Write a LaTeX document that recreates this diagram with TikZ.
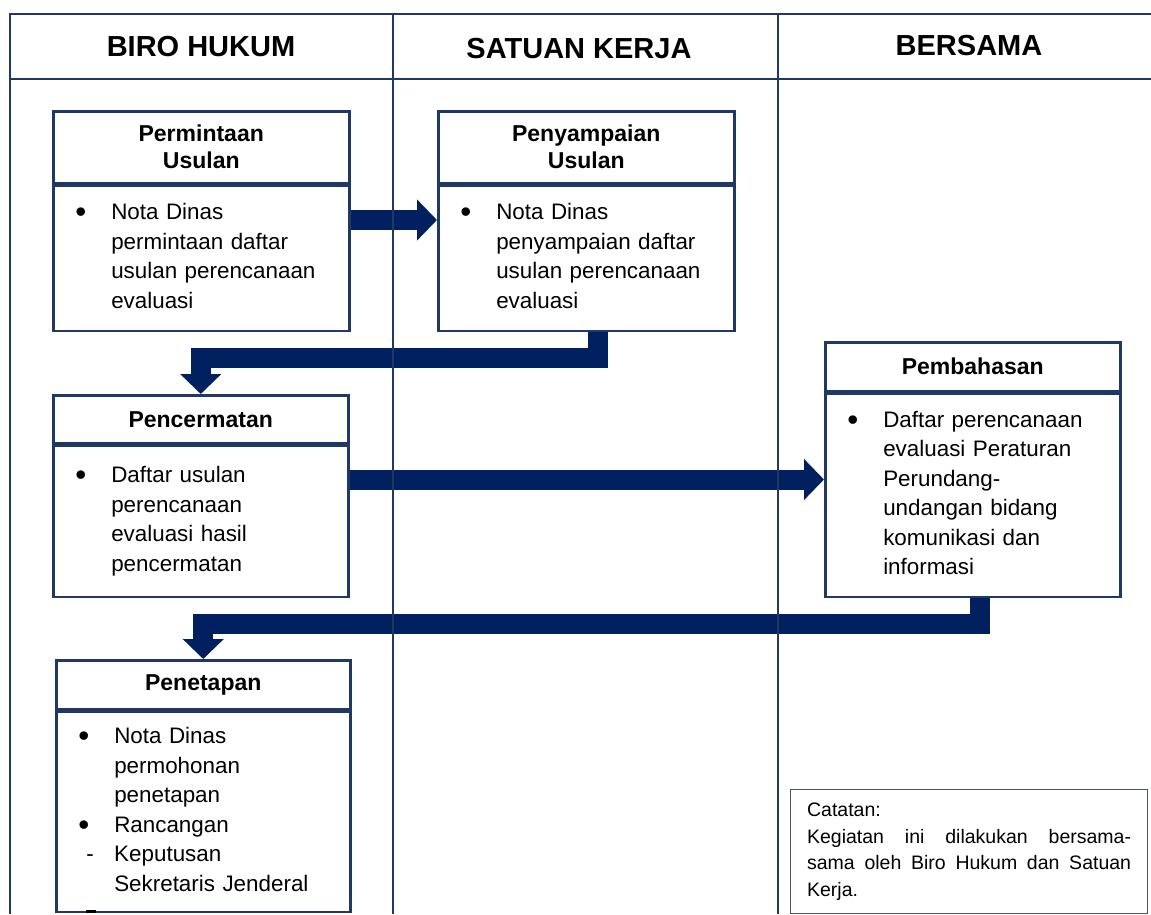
\documentclass[tikz,border=0pt]{standalone}
\usepackage{fontspec}
\setmainfont{Liberation Sans}
\usetikzlibrary{positioning,arrows.meta}

\definecolor{garis}{RGB}{31,56,100}
\definecolor{panah}{RGB}{0,32,96}
\definecolor{catat}{RGB}{75,85,105}

\pgfdeclarelayer{bawah}
\pgfsetlayers{bawah,main}

% bullet list: marker column + text column
\newcommand{\daftar}[1]{\begin{tabular}{@{}p{36pt}@{}l@{}}#1\end{tabular}}
\newcommand{\bul}{\raisebox{-2.8pt}{\scalebox{1.4}{\textbullet}}}

\tikzset{
  lajur/.style={draw=garis, line width=2.5pt},
  kepala/.style={font=\fontsize{29}{34}\selectfont\bfseries},
  judul/.style={draw=garis, line width=2.5pt, align=center, inner sep=0pt,
    anchor=north west, font=\fontsize{23}{27}\selectfont\bfseries},
  isi/.style={draw=garis, line width=2.5pt, align=left, text width=#1,
    inner xsep=22pt, inner ysep=0pt, font=\fontsize{22.4}{29.5}\selectfont},
  alur/.style={draw=panah, line width=20pt, line join=miter,
    -{Triangle[length=20pt,width=40pt]}}
}

\begin{document}
\begin{tikzpicture}[x=1pt,y=-1pt]
    \useasboundingbox (0,0) rectangle (1151,914);

    % Headers
    \node[kepala] (hBiro) at (201,47) {BIRO HUKUM};
    \node[kepala] (hSatker) at (579,49) {SATUAN KERJA};
    \node[kepala] (hBersama) at (969,46) {BERSAMA};

    % Boxes
    \node[judul, minimum width=296pt, minimum height=72pt] (mintaJudul) at (52,110) {Permintaan\\Usulan};
    \node[isi=252pt, minimum height=145pt, below=0pt of mintaJudul] (mintaIsi)
        {\daftar{\bul & Nota Dinas\\ & permintaan daftar\\ & usulan perencanaan\\ & evaluasi}};

    \node[judul, minimum width=296pt, minimum height=72pt] (sampaiJudul) at (437,110) {Penyampaian\\Usulan};
    \node[isi=252pt, minimum height=145pt, below=0pt of sampaiJudul] (sampaiIsi)
        {\daftar{\bul & Nota Dinas\\ & penyampaian daftar\\ & usulan perencanaan\\ & evaluasi}};

    \node[judul, minimum width=295pt, minimum height=48pt] (cermatJudul) at (52,394) {Pencermatan};
    \node[isi=251pt, minimum height=151pt, below=0pt of cermatJudul] (cermatIsi)
        {\daftar{\bul & Daftar usulan\\ & perencanaan\\ & evaluasi hasil\\ & pencermatan}};

    \node[judul, minimum width=295pt, minimum height=49pt] (bahasJudul) at (824,341) {Pembahasan};
    \node[isi=251pt, minimum height=203pt, below=0pt of bahasJudul] (bahasIsi)
        {\daftar{\bul & Daftar perencanaan\\ & evaluasi Peraturan\\ & Perundang-\\ & undangan bidang\\ & komunikasi dan\\ & informasi}};

    \node[judul, minimum width=294pt, minimum height=49pt] (tetapJudul) at (55,659) {Penetapan};
    \node[isi=250pt, minimum height=200pt, below=0pt of tetapJudul] (tetapIsi)
        {\daftar{\bul & Nota Dinas\\ & permohonan\\ & penetapan\\ \bul & Rancangan\\ \hspace{8pt}- & Keputusan\\ & Sekretaris Jenderal}};
    \fill (86,909.5) rectangle (96,912.5);

    % Note
    \node[draw=catat, line width=1.2pt, anchor=north west, text width=324pt,
          inner xsep=16.5pt, minimum height=124pt, align=justify,
          font=\fontsize{19.5}{26.7}\selectfont] (catatan) at (790,789)
        {Catatan:\par Kegiatan ini dilakukan bersama-\linebreak sama oleh Biro Hukum dan Satuan Kerja.};

    % Arrows
    \coordinate (p1) at ([yshift=-35.5pt]mintaIsi.north east);
    \coordinate (p2) at ([yshift=-35pt]cermatIsi.north east);
    \begin{pgfonlayer}{bawah}
        \draw[alur] (p1) -- (p1 -| sampaiIsi.west);
        \draw[alur] ([xshift=11.5pt]sampaiIsi.south) -- ++(0,25.5) -| (cermatJudul.north);
        \draw[alur] (p2) -- (p2 -| bahasIsi.west);
        \draw[alur] ([xshift=7.5pt]bahasIsi.south) -- ++(0,26) -| (tetapJudul.north);
    \end{pgfonlayer}

    % Lanes
    \draw[lajur] (1151,14) -- (10,14) -- (10,914);
    \draw[lajur] (10,79) -- (1151,79);
    \foreach \x in {393,778} {
        \draw[lajur] (\x,14) -- (\x,914);
    }
\end{tikzpicture}
\end{document}
